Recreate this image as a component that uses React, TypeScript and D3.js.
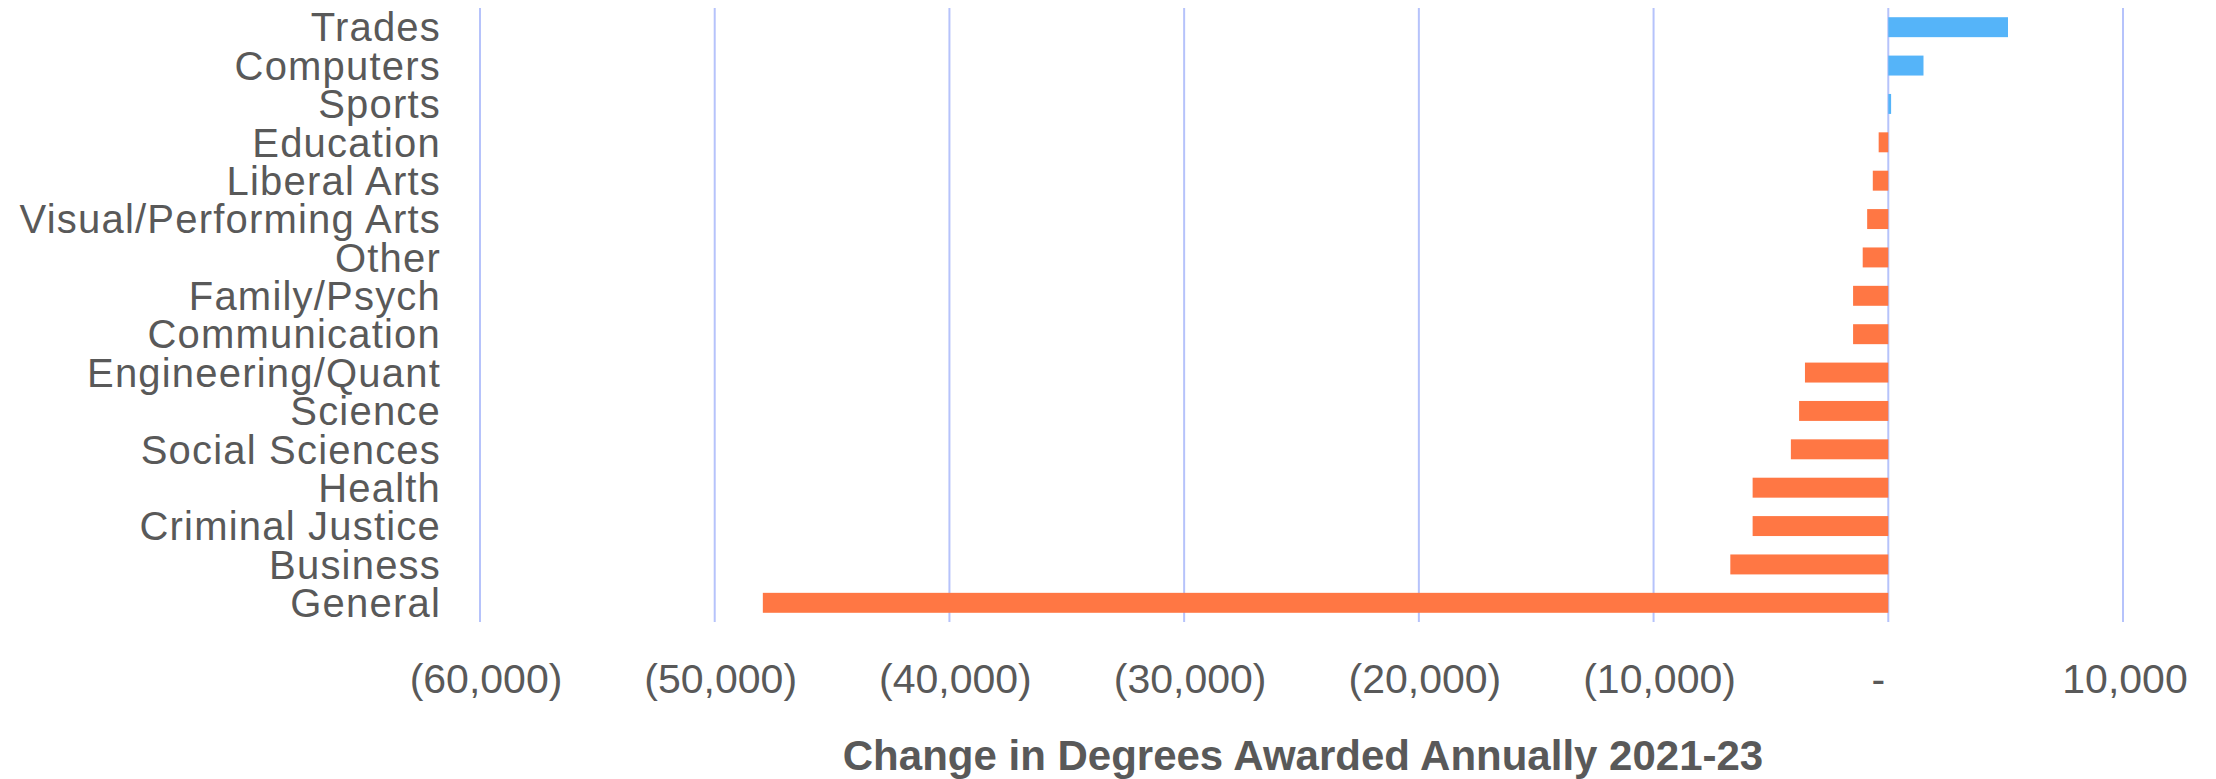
import React from "react";
import * as d3 from "d3";

const categories = [
  "Trades", "Computers", "Sports", "Education", "Liberal Arts",
  "Visual/Performing Arts", "Other", "Family/Psych", "Communication",
  "Engineering/Quant", "Science", "Social Sciences", "Health",
  "Criminal Justice", "Business", "General",
];
const values = [
  5100, 1500, 120, -410, -660, -900, -1090, -1500, -1500,
  -3550, -3800, -4150, -5780, -5780, -6730, -47950,
];
const xTicks = [-60000, -50000, -40000, -30000, -20000, -10000, 0, 10000];
const axisTitle = "Change in Degrees Awarded Annually 2021-23";

const W = 2216;
const H = 779;
const TEXT = "#595959";
const GRID = "#b6c3fb";
const POS = "#55b4f9";
const NEG = "#ff7744";
const FONT = "'Liberation Sans', Arial, sans-serif";

const fmt = (v: number) => {
  if (v === 0) return "-";
  const s = d3.format(",")(Math.abs(v));
  return v < 0 ? `(${s})` : s;
};

export default function App() {
  const x = d3.scaleLinear().domain([-60000, 10000]).range([480, 2123]);
  const y = d3.scaleBand<string>().domain(categories).range([8, 622]).paddingInner(0.48).paddingOuter(0.24);
  return (
    <svg width={W} height={H} style={{ position: "absolute", left: 0, top: 0, background: "#fff" }}>
      {xTicks.map((t) => (
        <line key={"g" + t} x1={x(t)} x2={x(t)} y1={8} y2={622} stroke={GRID} strokeWidth={2} />
      ))}
      {categories.map((c, i) => {
        const v = values[i];
        const x0 = x(0);
        const x1 = x(v);
        return (
          <rect key={c} x={Math.min(x0, x1)} y={y(c)!} width={Math.abs(x1 - x0)} height={y.bandwidth()} fill={v >= 0 ? POS : NEG} />
        );
      })}
      {categories.map((c) => {
        const cy = y(c)! + y.bandwidth() / 2;
        return (
          <text key={"l" + c} x={441} y={cy + 14.3} textAnchor="end" fontFamily={FONT} fontSize={40} letterSpacing={1.2} fill={TEXT}>
            {c}
          </text>
        );
      })}
      {xTicks.map((t) => (
        <text key={"t" + t} x={x(t) + (t === 0 ? -10 : t > 0 ? 2 : 6)} y={693} textAnchor="middle" fontFamily={FONT} fontSize={41} fill={TEXT}>
          {fmt(t)}
        </text>
      ))}
      <text x={1303} y={770} textAnchor="middle" fontFamily={FONT} fontSize={42} fontWeight="bold" fill={TEXT}>
        {axisTitle}
      </text>
    </svg>
  );
}
